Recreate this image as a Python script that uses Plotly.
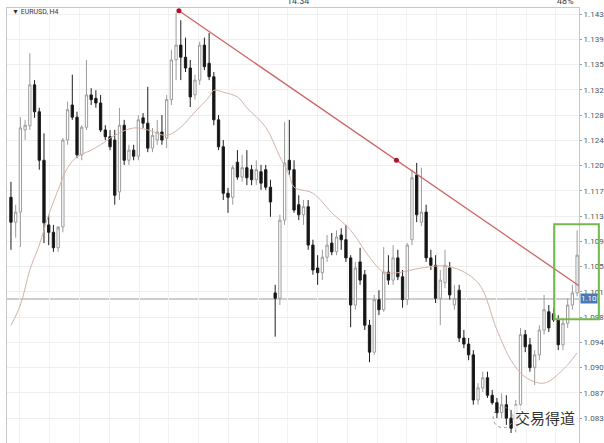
import plotly.graph_objects as go

# EURUSD H4 candles (oldest first)
opens = [1.1158, 1.1121, 1.1136, 1.1258, 1.1264, 1.1325, 1.1285, 1.1213, 1.1117, 1.1106,
         1.1083, 1.1114, 1.1243, 1.1295, 1.1277, 1.1221, 1.1262, 1.1310, 1.1305, 1.1298,
         1.1258, 1.1248, 1.1243, 1.1166, 1.1265, 1.1213, 1.1228, 1.1219, 1.1276, 1.1268,
         1.1231, 1.1243, 1.1255, 1.1246, 1.1303, 1.1362, 1.1384, 1.1366, 1.1350, 1.1310,
         1.1332, 1.1384, 1.1357, 1.1337, 1.1273, 1.1233, 1.1164, 1.1158, 1.1210, 1.1188,
         1.1202, 1.1199, 1.1184, 1.1196, 1.1199, 1.1173, 1.1016, 1.1008, 1.1124, 1.1213,
         1.1199, 1.1147, 1.1132, 1.1144, 1.1087, 1.1053, 1.1046, 1.1069, 1.1090, 1.1077,
         1.1102, 1.1095, 1.1068, 1.0998, 1.1062, 1.1043, 1.0968, 1.0928, 1.1006, 1.0991,
         1.1047, 1.1035, 1.1068, 1.1040, 1.1006, 1.1095, 1.1191, 1.1121, 1.1136, 1.1068,
         1.1057, 1.1008, 1.1031, 1.1053, 1.0998, 1.1020, 1.0949, 1.0940, 1.0924, 1.0857,
         1.0875, 1.0890, 1.0864, 1.0853, 1.0838, 1.0850, 1.0830, 1.0815, 1.0850, 1.0954,
         1.0939, 1.0905, 1.0924, 1.0961, 1.0988, 1.0985, 1.0976, 1.0939, 1.0971, 1.0998,
         1.1016]
highs = [1.1181, 1.1147, 1.1277, 1.1273, 1.1372, 1.1332, 1.1291, 1.1253, 1.1132, 1.1117,
         1.1109, 1.1246, 1.1300, 1.1340, 1.1285, 1.1265, 1.1362, 1.1320, 1.1317, 1.1310,
         1.1265, 1.1258, 1.1258, 1.1291, 1.1273, 1.1236, 1.1236, 1.1280, 1.1283, 1.1322,
         1.1261, 1.1273, 1.1280, 1.1310, 1.1377, 1.1432, 1.1421, 1.1395, 1.1362, 1.1340,
         1.1389, 1.1395, 1.1402, 1.1344, 1.1280, 1.1243, 1.1172, 1.1206, 1.1228, 1.1221,
         1.1228, 1.1206, 1.1213, 1.1206, 1.1206, 1.1184, 1.1028, 1.1132, 1.1270, 1.1273,
         1.1213, 1.1161, 1.1154, 1.1154, 1.1095, 1.1072, 1.1080, 1.1102, 1.1105, 1.1109,
         1.1112, 1.1117, 1.1072, 1.1062, 1.1083, 1.1050, 1.0976, 1.1013, 1.1020, 1.1084,
         1.1072, 1.1087, 1.1080, 1.1050, 1.1090, 1.1199, 1.1209, 1.1202, 1.1147, 1.1080,
         1.1072, 1.1050, 1.1080, 1.1062, 1.1028, 1.1028, 1.0961, 1.0949, 1.0931, 1.0882,
         1.0899, 1.0899, 1.0872, 1.0860, 1.0867, 1.0864, 1.0842, 1.0857, 1.0964, 1.0961,
         1.0949, 1.0931, 1.0968, 1.1013, 1.0998, 1.0994, 1.0983, 1.0976, 1.1008, 1.1028,
         1.1109]
lows = [1.1080, 1.1098, 1.1084, 1.1243, 1.1258, 1.1276, 1.1199, 1.1090, 1.1087, 1.1077,
        1.1077, 1.1106, 1.1236, 1.1273, 1.1216, 1.1213, 1.1258, 1.1295, 1.1291, 1.1255,
        1.1243, 1.1228, 1.1147, 1.1154, 1.1206, 1.1206, 1.1213, 1.1213, 1.1261, 1.1225,
        1.1225, 1.1236, 1.1236, 1.1231, 1.1295, 1.1332, 1.1332, 1.1344, 1.1292, 1.1303,
        1.1325, 1.1347, 1.1332, 1.1265, 1.1228, 1.1154, 1.1135, 1.1147, 1.1184, 1.1181,
        1.1176, 1.1176, 1.1176, 1.1169, 1.1169, 1.1129, 1.0951, 1.0998, 1.1117, 1.1191,
        1.1135, 1.1124, 1.1117, 1.1080, 1.1043, 1.1028, 1.1035, 1.1062, 1.1072, 1.1072,
        1.1080, 1.1062, 1.0965, 1.0991, 1.1028, 1.0961, 1.0913, 1.0924, 1.0983, 1.0988,
        1.1028, 1.1028, 1.1035, 1.0994, 1.0998, 1.1087, 1.1121, 1.1115, 1.1062, 1.1050,
        1.1001, 1.0968, 1.1023, 1.1006, 1.0991, 1.0943, 1.0934, 1.0916, 1.0850, 1.0850,
        1.0869, 1.0860, 1.0850, 1.0830, 1.0830, 1.0820, 1.0808, 1.0809, 1.0842, 1.0928,
        1.0899, 1.0879, 1.0916, 1.0954, 1.0958, 1.0973, 1.0931, 1.0931, 1.0964, 1.0991,
        1.1011]
closes = [1.1121, 1.1136, 1.1261, 1.1265, 1.1325, 1.1285, 1.1213, 1.1120, 1.1106, 1.1083,
          1.1114, 1.1243, 1.1288, 1.1277, 1.1221, 1.1262, 1.1310, 1.1303, 1.1298, 1.1258,
          1.1248, 1.1233, 1.1161, 1.1265, 1.1213, 1.1228, 1.1219, 1.1273, 1.1268, 1.1231,
          1.1250, 1.1255, 1.1243, 1.1303, 1.1362, 1.1384, 1.1366, 1.1350, 1.1307, 1.1332,
          1.1384, 1.1352, 1.1337, 1.1273, 1.1233, 1.1164, 1.1158, 1.1202, 1.1188, 1.1202,
          1.1187, 1.1184, 1.1199, 1.1179, 1.1173, 1.1151, 1.1008, 1.1124, 1.1209, 1.1199,
          1.1139, 1.1132, 1.1144, 1.1087, 1.1050, 1.1046, 1.1069, 1.1087, 1.1077, 1.1099,
          1.1095, 1.1068, 1.0998, 1.1053, 1.1035, 1.0968, 1.0928, 1.1006, 1.0991, 1.1047,
          1.1035, 1.1068, 1.1040, 1.1006, 1.1087, 1.1187, 1.1132, 1.1136, 1.1068, 1.1057,
          1.1008, 1.1035, 1.1057, 1.1013, 1.1008, 1.0949, 1.0940, 1.0924, 1.0857, 1.0875,
          1.0890, 1.0864, 1.0853, 1.0838, 1.0850, 1.0830, 1.0815, 1.0850, 1.0954, 1.0936,
          1.0905, 1.0924, 1.0961, 1.0991, 1.0964, 1.0976, 1.0939, 1.0971, 1.0998, 1.1016,
          1.1072]
bars = list(range(len(closes)))

# moving average, sampled at some bars
ma_bars = [0, 2, 4, 6, 8, 10, 12, 14, 17, 19, 22, 26, 29, 33, 36, 38, 40, 42, 43, 45,
           48, 50, 54, 57, 59, 60, 64, 68, 72, 76, 79, 82, 87, 93, 99, 103, 106, 109, 113, 117, 120]
ma_vals = [1.0968, 1.0998, 1.1050, 1.1087, 1.1132, 1.1169, 1.1202, 1.1218, 1.1228, 1.1236,
           1.1250, 1.1261, 1.1258, 1.1250, 1.1262, 1.1277, 1.1292, 1.1307, 1.1317, 1.1314,
           1.1307, 1.1291, 1.1262, 1.1218, 1.1191, 1.1173, 1.1164, 1.1135, 1.1109, 1.1069,
           1.1047, 1.1046, 1.1053, 1.1055, 1.1031, 1.0961, 1.0916, 1.0891, 1.0882, 1.0902, 1.0927]

# trendline anchors (red dots)
trend_x = [35.6, 81.7]
trend_y = [1.1435, 1.1213]
hline_price = 1.1007

tick_vals = [1.14300, 1.13925, 1.13550, 1.13175, 1.12800, 1.12425, 1.12050, 1.11675, 1.11300,
             1.10925, 1.10550, 1.10175, 1.09800, 1.09425, 1.09050, 1.08675, 1.08300]
tick_text = ['1.143', '1.139', '1.135', '1.132', '1.128', '1.124', '1.120', '1.117', '1.113',
             '1.109', '1.105', '1.101', '1.098', '1.094', '1.090', '1.087', '1.083']

X_MIN, X_MAX = -0.84, 120.4
Y_MIN, Y_MAX = 1.07931, 1.14391

fig = go.Figure()

fig.add_trace(go.Candlestick(
    x=bars, open=opens, high=highs, low=lows, close=closes,
    increasing=dict(line=dict(color='#9c9c9c', width=1), fillcolor='#ffffff'),
    decreasing=dict(line=dict(color='#1e1e1e', width=1), fillcolor='#111111'),
    whiskerwidth=0, hoverinfo='skip'))

fig.add_trace(go.Scatter(
    x=ma_bars, y=ma_vals, mode='lines', line=dict(color='#d3b3a8', width=1, shape='spline'),
    hoverinfo='skip'))

# extend the trendline to the right edge
slope = (trend_y[1] - trend_y[0]) / (trend_x[1] - trend_x[0])
fig.add_trace(go.Scatter(
    x=[trend_x[0], X_MAX], y=[trend_y[0], trend_y[0] + slope * (X_MAX - trend_x[0])],
    mode='lines', line=dict(color='#cc6463', width=1.3), hoverinfo='skip'))
fig.add_trace(go.Scatter(
    x=trend_x, y=trend_y, mode='markers',
    marker=dict(color='#b0122a', size=5), hoverinfo='skip', cliponaxis=False))

# current price line
fig.add_shape(type='line', xref='paper', yref='y', x0=0, x1=1, y0=hline_price, y1=hline_price,
              line=dict(color='#bdbdbd', width=1.5), layer='below')

# green box around the breakout
fig.add_shape(type='rect', xref='paper', yref='y', x0=0.9566, x1=1.0347, y0=1.0977, y1=1.1118,
              line=dict(color='#74b84c', width=2))

# wechat-ish icon circle of the watermark
fig.add_shape(type='circle', xref='paper', yref='paper', x0=0.850, x1=0.885, y0=0.035, y1=0.082,
              line=dict(color='#9a9a9a', width=1, dash='dot'))

fig.add_annotation(xref='paper', yref='y', x=1.002, y=hline_price, xanchor='left', yanchor='middle',
                   text='1.10', showarrow=False, bgcolor='#4a78b4', borderpad=0,
                   font=dict(family='Roboto', size=8, color='white'))
fig.add_annotation(xref='paper', yref='paper', x=0.005, y=0.991, xanchor='left', yanchor='middle',
                   text='▼ EURUSD, H4', showarrow=False,
                   font=dict(family='Roboto', size=7, color='#333333'))
fig.add_annotation(xref='paper', yref='paper', x=0.997, y=0.058, xanchor='right', yanchor='middle',
                   text='交易得道', showarrow=False, bgcolor='rgba(255,255,255,0.7)',
                   font=dict(family='Noto Sans CJK SC', size=15, color='#333333'))
# phone status bar, cut at the top
fig.add_annotation(xref='paper', yref='paper', x=0.509, y=1.017, xanchor='center', yanchor='middle',
                   text='14:34', showarrow=False, font=dict(family='Roboto', size=9, color='#444444'))
fig.add_annotation(xref='paper', yref='paper', x=0.995, y=1.017, xanchor='right', yanchor='middle',
                   text='48%', showarrow=False, font=dict(family='Roboto', size=9, color='#444444'))

fig.update_layout(
    width=604, height=443,
    margin=dict(l=7, r=21, t=8, b=0),
    paper_bgcolor='white', plot_bgcolor='white',
    showlegend=False,
    xaxis=dict(range=[X_MIN, X_MAX], rangeslider=dict(visible=False),
               tickmode='linear', tick0=1.9, dtick=6.31, showticklabels=False, ticks='',
               showgrid=True, gridcolor='#f1f1f1', zeroline=False,
               showline=True, linecolor='#c8c8c8', mirror=True),
    yaxis=dict(range=[Y_MIN, Y_MAX], side='right', tickmode='array',
               tickvals=tick_vals, ticktext=tick_text, ticks='outside', ticklen=2,
               tickcolor='#999999', tickfont=dict(family='Roboto', size=8, color='#555555'),
               showgrid=True, gridcolor='#eeeeee', zeroline=False,
               showline=True, linecolor='#c8c8c8', mirror=True),
)

# drop the browser's default body margin so the figure sits at the window's corner
fig.write_html("out.html", config={'displayModeBar': False},
               post_script="document.body.style.margin='0';")
